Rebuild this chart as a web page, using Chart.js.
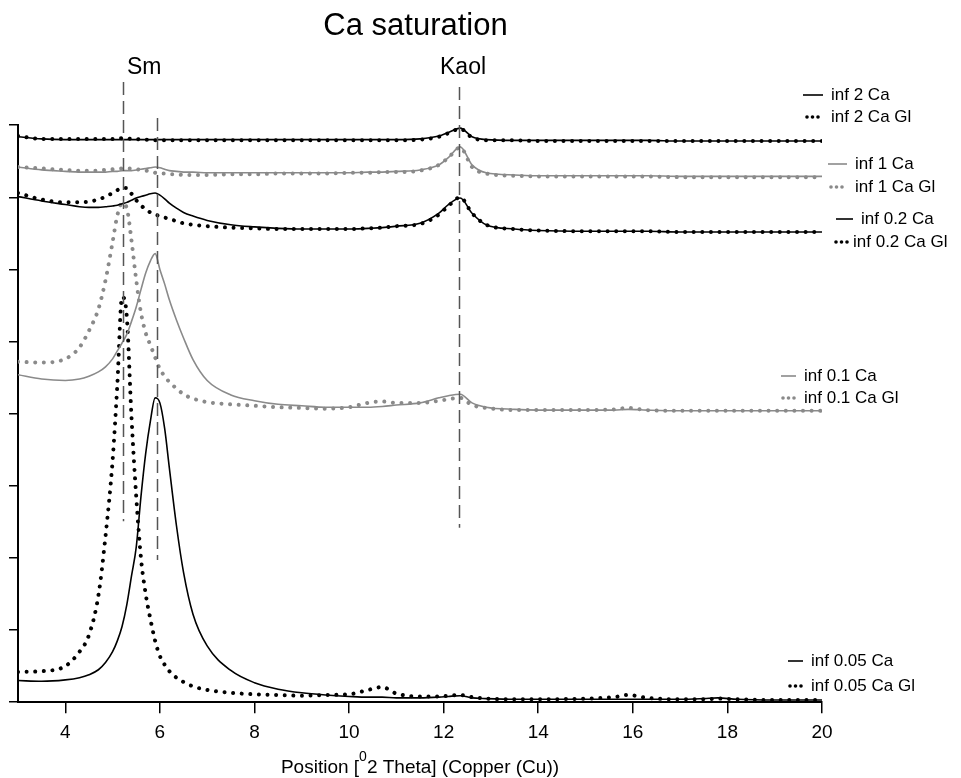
<!DOCTYPE html>
<html>
<head>
<meta charset="utf-8">
<title>Ca saturation</title>
<script src="https://cdn.jsdelivr.net/npm/chart.js@4.4.1/dist/chart.umd.min.js"></script>
<style>
  html, body { margin: 0; padding: 0; background: #fff; }
  #contenedor { width: 961px; height: 778px; }
</style>
</head>
<body>
<div id="contenedor"><canvas id="xrdChart" width="961" height="778"></canvas></div>
<script>
// posiciones 2 theta compartidas por todas las series
const posiciones = [3, 3.5, 4, 4.3, 4.5, 4.7, 4.85, 5.0, 5.1, 5.2,
  5.3, 5.4, 5.5, 5.6, 5.7, 5.8, 5.9, 6.0, 6.1, 6.2,
  6.35, 6.5, 6.7, 7.0, 7.5, 8, 8.5, 9, 9.5, 10,
  10.4, 10.7, 11, 11.5, 11.9, 12.1, 12.35, 12.6, 12.9, 13.5,
  14, 15, 15.6, 15.9, 16.3, 17, 17.5, 17.8, 18.2, 19,
  20];

const inf2Ca = [7.84, 7.81, 7.80, 7.80, 7.80, 7.80, 7.80, 7.80, 7.80, 7.80,
  7.80, 7.80, 7.80, 7.80, 7.80, 7.80, 7.80, 7.80, 7.80, 7.80,
  7.80, 7.80, 7.80, 7.80, 7.80, 7.80, 7.80, 7.80, 7.80, 7.80,
  7.80, 7.80, 7.80, 7.81, 7.85, 7.90, 7.96, 7.84, 7.80, 7.79,
  7.79, 7.79, 7.79, 7.79, 7.79, 7.78, 7.78, 7.78, 7.78, 7.78,
  7.78];
const inf2CaGl = [7.85, 7.81, 7.81, 7.81, 7.81, 7.81, 7.81, 7.81, 7.81, 7.82,
  7.82, 7.81, 7.81, 7.80, 7.80, 7.80, 7.79, 7.79, 7.79, 7.79,
  7.79, 7.79, 7.79, 7.79, 7.79, 7.79, 7.79, 7.79, 7.79, 7.79,
  7.79, 7.79, 7.79, 7.80, 7.84, 7.89, 7.95, 7.83, 7.79, 7.79,
  7.78, 7.78, 7.78, 7.78, 7.78, 7.78, 7.78, 7.78, 7.78, 7.78,
  7.78];
const inf1Ca = [7.42, 7.38, 7.36, 7.35, 7.35, 7.35, 7.35, 7.36, 7.36, 7.37,
  7.37, 7.37, 7.38, 7.39, 7.40, 7.41, 7.42, 7.41, 7.39, 7.37,
  7.36, 7.35, 7.35, 7.34, 7.34, 7.34, 7.34, 7.34, 7.34, 7.34,
  7.35, 7.35, 7.36, 7.38, 7.45, 7.55, 7.70, 7.45, 7.34, 7.31,
  7.30, 7.30, 7.30, 7.30, 7.30, 7.29, 7.29, 7.29, 7.29, 7.29,
  7.29];
const inf1CaGl = [7.42, 7.40, 7.38, 7.37, 7.37, 7.37, 7.38, 7.39, 7.40, 7.40,
  7.40, 7.40, 7.39, 7.38, 7.37, 7.36, 7.34, 7.33, 7.33, 7.32,
  7.32, 7.31, 7.31, 7.31, 7.32, 7.32, 7.33, 7.33, 7.33, 7.34,
  7.34, 7.35, 7.35, 7.37, 7.45, 7.55, 7.69, 7.42, 7.33, 7.30,
  7.29, 7.29, 7.29, 7.29, 7.29, 7.28, 7.28, 7.28, 7.28, 7.28,
  7.28];
const inf02Ca = [7.01, 6.95, 6.90, 6.87, 6.86, 6.86, 6.87, 6.88, 6.89, 6.91,
  6.93, 6.96, 6.99, 7.01, 7.03, 7.05, 7.06, 7.03, 6.98, 6.92,
  6.85, 6.79, 6.74, 6.68, 6.62, 6.59, 6.57, 6.56, 6.56, 6.56,
  6.57, 6.58, 6.60, 6.64, 6.78, 6.90, 6.99, 6.78, 6.62, 6.56,
  6.54, 6.53, 6.53, 6.53, 6.53, 6.52, 6.52, 6.52, 6.52, 6.52,
  6.52];
const inf02CaGl = [7.06, 6.97, 6.93, 6.93, 6.94, 6.97, 7.01, 7.06, 7.10, 7.13,
  7.13, 7.05, 6.96, 6.89, 6.83, 6.79, 6.76, 6.74, 6.72, 6.70,
  6.67, 6.64, 6.62, 6.60, 6.58, 6.57, 6.56, 6.56, 6.56, 6.56,
  6.57, 6.58, 6.60, 6.63, 6.76, 6.88, 7.00, 6.78, 6.62, 6.56,
  6.54, 6.53, 6.53, 6.53, 6.53, 6.52, 6.52, 6.52, 6.52, 6.52,
  6.52];
const inf01Ca = [4.54, 4.48, 4.46, 4.48, 4.52, 4.58, 4.65, 4.76, 4.87, 4.98,
  5.10, 5.28, 5.48, 5.72, 5.95, 6.12, 6.22, 6.00, 5.80, 5.58,
  5.30, 5.05, 4.75, 4.46, 4.26, 4.18, 4.13, 4.11, 4.09, 4.09,
  4.09, 4.10, 4.12, 4.15, 4.22, 4.25, 4.27, 4.15, 4.09, 4.06,
  4.05, 4.05, 4.05, 4.06, 4.05, 4.04, 4.04, 4.04, 4.04, 4.04,
  4.04];
const inf01CaGl = [4.72, 4.71, 4.76, 4.92, 5.15, 5.45, 5.85, 6.38, 6.75, 6.92,
  6.85, 6.40, 5.85, 5.40, 5.12, 4.95, 4.78, 4.62, 4.52, 4.44,
  4.35, 4.27, 4.21, 4.16, 4.13, 4.11, 4.09, 4.08, 4.07, 4.09,
  4.15, 4.17, 4.15, 4.15, 4.18, 4.20, 4.22, 4.12, 4.08, 4.05,
  4.05, 4.05, 4.06, 4.08, 4.05, 4.04, 4.04, 4.04, 4.04, 4.04,
  4.04];
const inf005Ca = [0.30, 0.29, 0.31, 0.34, 0.38, 0.45, 0.55, 0.70, 0.85, 1.05,
  1.35, 1.75, 2.15, 2.85, 3.45, 3.90, 4.22, 4.15, 3.80, 3.25,
  2.45, 1.80, 1.22, 0.78, 0.44, 0.27, 0.18, 0.13, 0.10, 0.08,
  0.07, 0.07, 0.06, 0.06, 0.07, 0.08, 0.09, 0.06, 0.05, 0.04,
  0.04, 0.04, 0.04, 0.04, 0.04, 0.04, 0.05, 0.06, 0.04, 0.03,
  0.03];
const inf005CaGl = [0.42, 0.43, 0.50, 0.70, 0.93, 1.48, 2.30, 3.35, 4.40, 5.62,
  5.35, 3.95, 2.85, 2.00, 1.50, 1.15, 0.85, 0.64, 0.52, 0.43,
  0.34, 0.28, 0.22, 0.17, 0.13, 0.11, 0.10, 0.09, 0.10, 0.11,
  0.17, 0.21, 0.12, 0.08, 0.08, 0.09, 0.10, 0.07, 0.05, 0.04,
  0.04, 0.05, 0.07, 0.10, 0.06, 0.04, 0.04, 0.05, 0.04, 0.03,
  0.03];

const nombresSeries = ["inf 2 Ca", "inf 2 Ca Gl", "inf 1 Ca", "inf 1 Ca Gl",
  "inf 0.2 Ca", "inf 0.2 Ca Gl", "inf 0.1 Ca", "inf 0.1 Ca Gl",
  "inf 0.05 Ca", "inf 0.05 Ca Gl"];
const valoresSeries = [inf2Ca, inf2CaGl, inf1Ca, inf1CaGl, inf02Ca, inf02CaGl,
  inf01Ca, inf01CaGl, inf005Ca, inf005CaGl];

const ticksX = [4, 6, 8, 10, 12, 14, 16, 18, 20];

// lineas de referencia (posicion 2theta, extremo superior e inferior en unidades del eje y)
const refPosiciones = [5.22, 5.94, 12.33];
const refArriba = [8.60, 8.10, 8.53];
const refAbajo = [2.51, 1.97, 2.42];
const refEtiquetas = ["Sm", "Kaol"];
const refEtiquetasX = [5.67, 12.41];

const NEGRO = "#000000";
const GRIS = "#8a8a8a";

// leyenda: una fila por serie (inicio muestra, x texto, y) en pixeles
const filasLeyenda = [
  [803, 831, 95], [807, 831, 117],
  [828, 855, 164], [831, 855, 187],
  [836, 861, 219], [836, 853, 242],
  [781, 804, 376], [783, 804, 398],
  [788, 811, 661], [790, 811, 686]
];

function colorSerie(i) {
  return (Math.floor(i / 2) % 2 === 1) ? GRIS : NEGRO;
}

const datasets = valoresSeries.map((valores, i) => {
  const punteada = i % 2 === 1;
  const color = colorSerie(i);
  return {
    label: nombresSeries[i],
    data: posiciones.map((x, j) => ({ x: x, y: valores[j] })),
    borderColor: color,
    backgroundColor: color,
    borderWidth: punteada ? 4 : 1.6,
    borderDash: punteada ? [0.01, 8.6] : [],
    borderCapStyle: punteada ? "round" : "butt",
    borderJoinStyle: "round",
    pointRadius: 0,
    cubicInterpolationMode: "monotone",
    fill: false
  };
});

const dibujoExtra = {
  id: "dibujoExtra",
  afterDraw(chart) {
    const { ctx, scales: { x, y } } = chart;
    ctx.save();

    // lineas discontinuas Sm / Kaol
    ctx.strokeStyle = "#555555";
    ctx.lineWidth = 1.5;
    ctx.setLineDash([13, 6]);
    refPosiciones.forEach((pos, i) => {
      const px = Math.round(x.getPixelForValue(pos)) + 0.5;
      ctx.beginPath();
      ctx.moveTo(px, y.getPixelForValue(refArriba[i]));
      ctx.lineTo(px, y.getPixelForValue(refAbajo[i]));
      ctx.stroke();
    });
    ctx.setLineDash([]);

    ctx.fillStyle = "#000";
    ctx.font = "23px 'Liberation Sans', Arial, sans-serif";
    ctx.textAlign = "center";
    ctx.textBaseline = "middle";
    refEtiquetas.forEach((txt, i) => {
      ctx.fillText(txt, x.getPixelForValue(refEtiquetasX[i]), y.getPixelForValue(8.8));
    });

    // leyenda
    ctx.font = "17px 'Liberation Sans', Arial, sans-serif";
    ctx.textAlign = "left";
    filasLeyenda.forEach((f, i) => {
      const [xm, xt, yf] = f;
      const color = colorSerie(i);
      if (i % 2 === 0) {
        ctx.strokeStyle = color;
        ctx.lineWidth = 1.6;
        ctx.beginPath();
        ctx.moveTo(xm, yf);
        ctx.lineTo(xt - 8, yf);
        ctx.stroke();
      } else {
        ctx.fillStyle = color;
        for (let d = 0; d < 3; d++) {
          ctx.beginPath();
          ctx.arc(xm + d * 5.5, yf, 1.8, 0, Math.PI * 2);
          ctx.fill();
        }
      }
      ctx.fillStyle = "#000";
      ctx.fillText(nombresSeries[i], xt, yf);
    });

    // titulo del eje x con superindice
    const cx = (chart.chartArea.left + chart.chartArea.right) / 2;
    const yBase = 768;
    const parte1 = "Position [";
    const sup = "0";
    const parte2 = "2 Theta] (Copper (Cu))";
    ctx.font = "19px 'Liberation Sans', Arial, sans-serif";
    const w1 = ctx.measureText(parte1).width;
    const w3 = ctx.measureText(parte2).width;
    ctx.font = "14px 'Liberation Sans', Arial, sans-serif";
    const w2 = ctx.measureText(sup).width;
    const inicio = cx - (w1 + w2 + w3) / 2;
    ctx.font = "19px 'Liberation Sans', Arial, sans-serif";
    ctx.fillText(parte1, inicio, yBase);
    ctx.font = "14px 'Liberation Sans', Arial, sans-serif";
    ctx.fillText(sup, inicio + w1, yBase - 11);
    ctx.font = "19px 'Liberation Sans', Arial, sans-serif";
    ctx.fillText(parte2, inicio + w1 + w2, yBase);

    ctx.restore();
  }
};

const ctx = document.getElementById("xrdChart").getContext("2d");
window.graficaXRD = new Chart(ctx, {
  type: "line",
  data: { datasets: datasets },
  options: {
    responsive: false,
    animation: false,
    events: [],
    layout: { padding: { left: 9, right: 139, top: 0, bottom: 26 } },
    plugins: {
      legend: { display: false },
      tooltip: { enabled: false },
      title: {
        display: true,
        text: "Ca saturation",
        color: "#000",
        font: { family: "'Liberation Sans', Arial, sans-serif", size: 31, weight: "normal" },
        padding: { top: 8, bottom: 80 }
      }
    },
    scales: {
      x: {
        type: "linear",
        min: 3,
        max: 20,
        afterBuildTicks: (scale) => { scale.ticks = ticksX.map(v => ({ value: v })); },
        grid: { display: true, drawOnChartArea: false, drawTicks: true, tickLength: 11, color: "#000", lineWidth: 1.5 },
        border: { display: true, color: "#000", width: 2 },
        ticks: {
          color: "#000",
          padding: 8,
          maxRotation: 0,
          font: { family: "'Liberation Sans', Arial, sans-serif", size: 19 }
        }
      },
      y: {
        type: "linear",
        min: 0,
        max: 8,
        ticks: { display: false, stepSize: 1 },
        grid: { display: true, drawOnChartArea: false, drawTicks: true, tickLength: 9, color: "#000", lineWidth: 1.5 },
        border: { display: true, color: "#000", width: 2 }
      }
    }
  },
  plugins: [dibujoExtra]
});
</script>
</body>
</html>
